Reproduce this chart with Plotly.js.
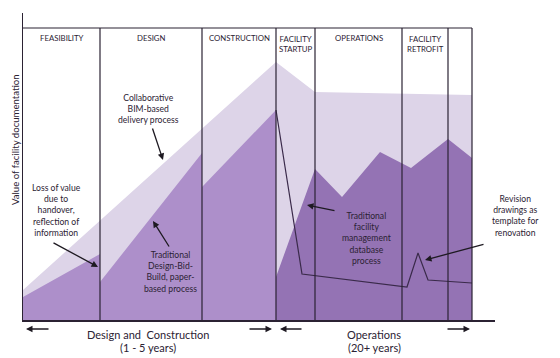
<!DOCTYPE html>
<html>
<head>
<meta charset="utf-8">
<script src="https://cdn.plot.ly/plotly-3.0.1.min.js"></script>
<style>html,body{margin:0;padding:0;background:#fff;}#chart{width:560px;height:358px;}</style>
</head>
<body>
<div id="chart"></div>
<script>
// Phase boundaries (time units) and labels
var phaseEdges = [0, 77, 179, 253, 292, 379, 425, 449];
var phaseLabels = ["FEASIBILITY", "DESIGN", "CONSTRUCTION", "FACILITY<br>STARTUP", "OPERATIONS", "FACILITY<br>RETROFIT", ""];
var topValue = 292;

// Collaborative BIM-based delivery process (value)
var bimX = [0, 253, 292, 449];
var bimY = [30, 258, 228, 225];

// Traditional Design-Bid-Build, paper-based process
var dbbX = [0, 77, 77, 179, 179, 253, 253];
var dbbY = [23, 66, 38, 167, 133, 210, 0];

// Operations phase value
var opsX = [253, 253, 292, 319, 357, 388, 425, 449];
var opsY = [0, 43, 151, 123, 168, 152, 181, 162];

// Traditional facility management database process
var fmX = [253, 279, 384, 395, 405, 449];
var fmY = [210, 46, 33, 67, 40, 37];

var FONT = "Lato, 'Open Sans', sans-serif";
var INK = "#2b2233";
var XMAX = 472, YMAX = 307;

var traces = [
  {x: bimX, y: bimY, type: "scatter", mode: "lines", fill: "tozeroy", fillcolor: "#ddd4e8", line: {width: 0, color: "#ddd4e8"}, hoverinfo: "skip"},
  {x: dbbX, y: dbbY, type: "scatter", mode: "lines", fill: "tozeroy", fillcolor: "#ad8fca", line: {width: 0, color: "#ad8fca"}, hoverinfo: "skip"},
  {x: opsX, y: opsY, type: "scatter", mode: "lines", fill: "tozeroy", fillcolor: "#9473b4", line: {width: 0, color: "#9473b4"}, hoverinfo: "skip"},
  {x: fmX, y: fmY, type: "scatter", mode: "lines", line: {width: 1.2, color: "#3a2a4a"}, hoverinfo: "skip"}
];

var shapes = [];
for (var i = 1; i < phaseEdges.length; i++) {
  shapes.push({type: "line", xref: "x", yref: "y", x0: phaseEdges[i], x1: phaseEdges[i], y0: 0, y1: topValue, line: {color: INK, width: 1.2}});
}
shapes.push({type: "line", xref: "x", yref: "y", x0: 0, x1: phaseEdges[phaseEdges.length - 1], y0: topValue, y1: topValue, line: {color: INK, width: 1.2}});

var annotations = [];
for (var j = 0; j < phaseLabels.length; j++) {
  if (!phaseLabels[j]) continue;
  var twoLine = phaseLabels[j].indexOf("<br>") >= 0;
  annotations.push({x: (phaseEdges[j] + phaseEdges[j + 1]) / 2, y: twoLine ? 276.5 : 282, xref: "x", yref: "y",
    text: phaseLabels[j], showarrow: false, xanchor: "center", yanchor: "middle",
    font: {family: FONT, size: 7.8, color: INK}});
}

// positions given in axis units; placed on paper so that they may lie outside the axes
function note(x, y, text, size, angle) {
  annotations.push({x: x / XMAX, y: y / YMAX, xref: "paper", yref: "paper", text: text, showarrow: false,
    xanchor: "center", yanchor: "middle", textangle: angle || 0,
    font: {family: FONT, size: size || 8.6, color: INK}});
}
function arrow(tx, ty, hx, hy) {
  annotations.push({x: hx / XMAX, y: hy / YMAX, xref: "paper", yref: "paper", ax: tx - hx, ay: -(ty - hy), text: "",
    showarrow: true, arrowhead: 2, arrowsize: 1, arrowwidth: 1.3, arrowcolor: "#1e1a22"});
}

note(125, 211.5, "Collaborative<br>BIM-based<br>delivery process");
arrow(129, 193, 140, 160);
note(33, 110, "Loss of value<br>due to<br>handover,<br>reflection of<br>information");
arrow(29, 78, 75, 53);
note(147, 48, "Traditional<br>Design-Bid-<br>Build, paper-<br>based process");
arrow(147, 72, 130, 99);
note(343, 82, "Traditional<br>facility<br>management<br>database<br>process");
arrow(313, 109, 284, 115);
note(492, 104.5, "Revision<br>drawings as<br>template for<br>renovation");
arrow(462, 76, 402, 60);

// bottom span arrows
arrow(27, -9, 3, -9);
arrow(225, -9, 249, -9);
arrow(280, -9, 257, -9);
arrow(423, -9, 447, -9);

note(125, -14, "Design and  Construction", 11);
note(125, -27, "(1 - 5 years)", 11);
note(351, -14, "Operations", 11);
note(351, -27, "(20+ years)", 11);

note(-8, 180, "Value of facility documentation", 9.6, -90);

var layout = {
  width: 560, height: 358,
  margin: {l: 23, r: 65, t: 13, b: 38, pad: 0},
  paper_bgcolor: "#fff", plot_bgcolor: "#fff",
  showlegend: false,
  xaxis: {range: [0, XMAX], showgrid: false, zeroline: false, showticklabels: false, ticks: "", showline: true, linecolor: INK, linewidth: 1.5, fixedrange: true},
  yaxis: {range: [0, YMAX], showgrid: false, zeroline: false, showticklabels: false, ticks: "", showline: true, linecolor: INK, linewidth: 1.5, fixedrange: true},
  shapes: shapes,
  annotations: annotations
};

Plotly.newPlot("chart", traces, layout, {staticPlot: true, displayModeBar: false});
</script>
</body>
</html>
